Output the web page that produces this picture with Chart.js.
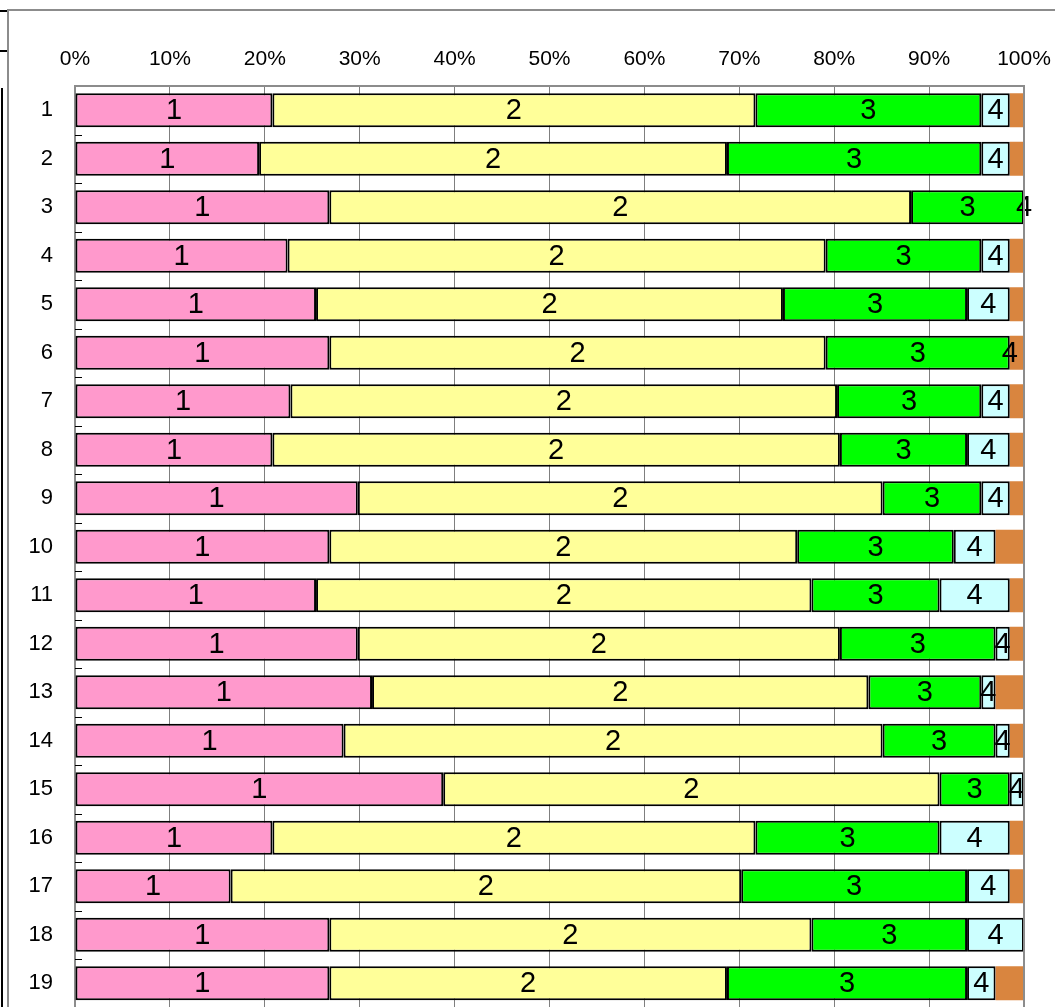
<!DOCTYPE html>
<html>
<head>
<meta charset="utf-8">
<script src="https://cdn.jsdelivr.net/npm/chart.js@4"></script>
<style>
  html, body { margin: 0; padding: 0; background: #fff; overflow: hidden; }
  body { width: 1055px; height: 1007px; position: relative; }
  #frame { position: absolute; left: 7px; top: 9px; right: -2px; bottom: -2px; border-left: 2px solid #8c8c8c; border-top: 2px solid #8c8c8c; }
  #cell1 { position: absolute; left: -2px; top: 10px; width: 7px; height: 38px; border: 2px solid #000; }
  #cell2 { position: absolute; left: -2px; top: 88px; width: 3px; height: 940px; border-right: 2px solid #000; }
  #wrap { position: absolute; left: 0; top: 0; width: 1055px; height: 1012px; }
</style>
</head>
<body>
<div id="cell1"></div>
<div id="cell2"></div>
<div id="frame"></div>
<div id="wrap"><canvas id="bars"></canvas></div>
<script>
// Row labels and the five answer groups (percent of each row)
const rows = ['1','2','3','4','5','6','7','8','9','10','11','12','13','14','15','16','17','18','19'];
const group1 = [20.8, 19.4, 26.8, 22.4, 25.4, 26.8, 22.7, 20.8, 29.8, 26.8, 25.4, 29.8, 31.3, 28.3, 38.8, 20.8, 16.4, 26.8, 26.8];
const group2 = [50.9, 49.3, 61.3, 56.7, 49.2, 52.3, 57.6, 59.8, 55.3, 49.3, 52.2, 50.8, 52.3, 56.8, 52.3, 50.9, 53.8, 50.8, 41.9];
const group3 = [23.8, 26.8, 11.9, 16.4, 19.4, 19.4, 15.2, 13.4, 10.4, 16.5, 13.5, 16.4, 11.9, 11.9, 7.4, 19.4, 23.8, 16.4, 25.3];
const group4 = [3.0, 3.0, 0, 3.0, 4.5, 0, 3.0, 4.5, 3.0, 4.4, 7.4, 1.5, 1.5, 1.5, 1.5, 7.4, 4.5, 6.0, 3.0];
const group5 = [1.5, 1.5, 0, 1.5, 1.5, 1.5, 1.5, 1.5, 1.5, 3.0, 1.5, 1.5, 3.0, 1.5, 0, 1.5, 1.5, 0, 3.0];
const segLabels = ['1', '2', '3', '4', ''];
const xTicks = [0, 10, 20, 30, 40, 50, 60, 70, 80, 90, 100];

const FONT = '"Liberation Sans Narrow", "Liberation Sans", sans-serif';

// labels in the middle of each segment, plus the little inward ticks on the left
const segmentText = {
    id: 'segmentText',
    afterDatasetsDraw(chart) {
        const c = chart.ctx;
        c.save();
        c.fillStyle = '#000';
        c.font = '29px ' + FONT;
        c.textAlign = 'center';
        c.textBaseline = 'middle';
        chart.data.datasets.forEach((ds, i) => {
            if (!segLabels[i]) return;
            chart.getDatasetMeta(i).data.forEach(bar => {
                c.fillText(segLabels[i], (bar.x + bar.base) / 2, bar.y + 1);
            });
        });
        const y = chart.scales.y;
        const left = chart.chartArea.left;
        c.strokeStyle = '#000';
        c.lineWidth = 1;
        for (let k = 1; k < rows.length; k++) {
            const py = Math.round((y.getPixelForTick(k - 1) + y.getPixelForTick(k)) / 2) + 0.5;
            c.beginPath();
            c.moveTo(left, py);
            c.lineTo(left + 7, py);
            c.stroke();
        }
        c.restore();
    }
};

const ctx = document.getElementById('bars').getContext('2d');

const colors = ['#FF99CC', '#FFFF99', '#00FF00', '#CCFFFF', '#D9853F'];
const series = [group1, group2, group3, group4, group5];

new Chart(ctx, {
    type: 'bar',
    data: {
        labels: rows,
        datasets: series.map((vals, i) => ({
            label: String(i + 1),
            data: vals,
            backgroundColor: colors[i],
            borderColor: '#000',
            borderWidth: i === 4 ? 0 : 2,
            borderSkipped: false,
            barPercentage: 0.72,
            categoryPercentage: 0.97
        }))
    },
    options: {
        indexAxis: 'y',
        responsive: true,
        maintainAspectRatio: false,
        animation: false,
        layout: { padding: { top: 0, left: 0, right: 31, bottom: 4.5 } },
        scales: {
            x: {
                position: 'top',
                stacked: true,
                min: 0,
                max: 100,
                afterFit: s => { s.height = 86; s.paddingLeft = 0; s.paddingRight = 0; },
                afterBuildTicks: s => { s.ticks = xTicks.map(v => ({ value: v })); },
                ticks: {
                    color: '#000',
                    padding: 14,
                    font: { family: FONT, size: 21 },
                    callback: v => v + '%'
                },
                grid: { color: '#7f7f7f', lineWidth: 1, drawTicks: false },
                border: { color: '#8c8c8c', width: 2 }
            },
            y: {
                stacked: true,
                afterFit: s => { s.width = 75; s.paddingTop = 0; s.paddingBottom = 0; },
                ticks: {
                    color: '#000',
                    padding: 22,
                    font: { family: FONT, size: 22 }
                },
                grid: { display: false, drawTicks: false },
                border: { color: '#8c8c8c', width: 2 }
            }
        },
        plugins: {
            legend: { display: false },
            tooltip: { enabled: false }
        }
    },
    plugins: [segmentText, {
        id: 'plotEdge',
        afterDraw(chart) {
            const a = chart.chartArea, c = chart.ctx;
            c.save();
            c.strokeStyle = '#8c8c8c';
            c.lineWidth = 2;
            c.beginPath();
            c.moveTo(a.left, a.top);
            c.lineTo(a.right, a.top);
            c.lineTo(a.right, a.bottom + 10);
            c.stroke();
            c.restore();
        }
    }]
});
</script>
</body>
</html>
